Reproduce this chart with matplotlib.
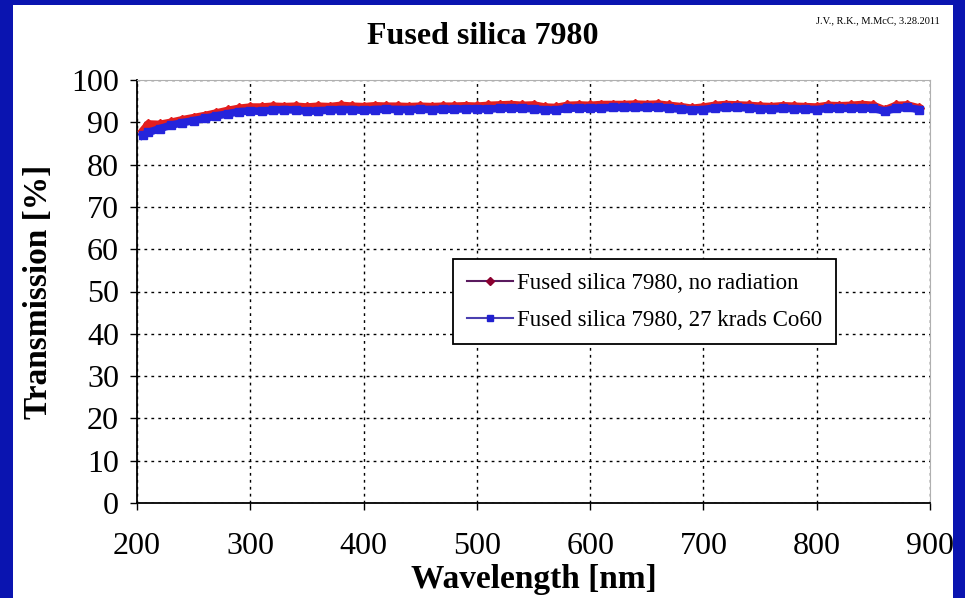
import matplotlib
matplotlib.use("Agg")
import matplotlib.pyplot as plt
from matplotlib.lines import Line2D
from matplotlib.patches import Rectangle

# wavelength [nm] and transmission [%]
wavelength = [205, 210, 220, 230, 240, 250, 260, 270, 280, 290,
              300, 310, 320, 330, 340, 350, 360, 370, 380, 390,
              400, 410, 420, 430, 440, 450, 460, 470, 480, 490,
              500, 510, 520, 530, 540, 550, 560, 570, 580, 590,
              600, 610, 620, 630, 640, 650, 660, 670, 680, 690,
              700, 710, 720, 730, 740, 750, 760, 770, 780, 790,
              800, 810, 820, 830, 840, 850, 860, 870, 880, 890]
no_radiation = [88.0, 89.6, 89.5, 90.0, 90.6, 91.1, 91.6, 92.2, 92.8, 93.3,
                93.6, 93.6, 93.8, 93.7, 93.8, 93.6, 93.8, 93.7, 94.0, 93.8,
                93.7, 93.9, 93.8, 93.8, 93.7, 93.8, 93.7, 93.8, 93.8, 93.9,
                93.8, 94.0, 94.1, 94.2, 94.0, 94.1, 93.6, 93.5, 94.0, 94.1,
                94.0, 94.2, 94.2, 94.2, 94.3, 94.2, 94.3, 94.0, 93.7, 93.3,
                93.6, 94.0, 94.2, 94.1, 94.0, 93.8, 93.7, 93.9, 93.8, 93.7,
                93.6, 94.0, 93.9, 94.0, 94.2, 94.0, 92.9, 94.0, 94.1, 93.4]
krads_27 = [86.9, 87.6, 88.5, 89.3, 89.9, 90.4, 90.9, 91.5, 92.0, 92.5,
            92.7, 92.6, 92.9, 93.0, 92.9, 92.6, 92.7, 92.9, 93.0, 93.0,
            92.8, 93.0, 93.1, 93.0, 93.0, 93.1, 93.0, 93.1, 93.1, 93.2,
            93.2, 93.1, 93.3, 93.4, 93.3, 93.2, 92.9, 92.9, 93.3, 93.4,
            93.3, 93.4, 93.5, 93.5, 93.5, 93.5, 93.6, 93.3, 93.1, 92.9,
            93.0, 93.4, 93.5, 93.5, 93.4, 93.2, 93.1, 93.3, 93.2, 93.1,
            93.0, 93.3, 93.3, 93.3, 93.4, 93.3, 92.6, 93.3, 93.5, 93.0]
labels = ["Fused silica 7980, no radiation", "Fused silica 7980, 27 krads Co60"]

plt.rcParams['font.family'] = ['Liberation Serif', 'DejaVu Serif']

fig = plt.figure(figsize=(9.65, 5.98), dpi=100)
fig.patch.set_facecolor("#0a14b0")
fig.patches.append(Rectangle((13/965, 0), 940/965, 593/598, transform=fig.transFigure,
                             facecolor="white", edgecolor="none", zorder=-10))

ax = fig.add_axes([137/965, 95/598, 793/965, 423/598])
ax.set_facecolor("white")

ax.plot(wavelength, no_radiation, "-", color="#e41e1e", lw=5.5,
        marker="D", ms=5.5, mec="#e41e1e", mfc="#e41e1e", zorder=3)
ax.plot(wavelength, krads_27, "-", color="#2424dc", lw=5.5,
        marker="s", ms=5.5, mec="#2424dc", mfc="#2424dc", zorder=4)

ax.set_xlim(200, 900); ax.set_ylim(0, 100)
ax.set_xticks(range(200, 901, 100)); ax.set_yticks(range(0, 101, 10))
ax.grid(True, color="black", lw=1, linestyle=(0, (2, 3)))
ax.tick_params(direction="out", length=5, width=1, labelsize=23, color="black")
ax.tick_params(axis="y", pad=8)
ax.tick_params(axis="x", pad=16)
for s in ("top", "right"):
    ax.spines[s].set_color("#b0b0b0")
for s in ("left", "bottom"):
    ax.spines[s].set_color("black"); ax.spines[s].set_linewidth(1.3)

ax.set_xlabel("Wavelength [nm]", fontsize=24, fontweight="bold", labelpad=2)
ax.set_ylabel("Transmission [%]", fontsize=24, fontweight="bold", labelpad=12)

handles = [Line2D([], [], color="#5a1a5e", lw=1.5, marker="D", ms=4, mfc="#8b0030", mec="#8b0030"),
           Line2D([], [], color="#4a3fb0", lw=1.5, marker="s", ms=4, mfc="#2020d0", mec="#2020d0")]
leg = ax.legend(handles, labels, loc="center", bbox_to_anchor=(0.64, 0.476),
                fontsize=16.5, frameon=True, fancybox=False, framealpha=1,
                edgecolor="black", handlelength=2, handletextpad=0.2,
                labelspacing=0.7, borderpad=0.6)
leg.get_frame().set_linewidth(1.3)

fig.text(483/965, 1 - 37/598, "Fused silica 7980", ha="center", va="center",
         fontsize=23, fontweight="bold")
fig.text(940/965, 1 - 21/598, "J.V., R.K., M.McC, 3.28.2011", ha="right", va="center",
         fontsize=7.5)

fig.savefig("out.png", dpi=100, facecolor=fig.get_facecolor())
